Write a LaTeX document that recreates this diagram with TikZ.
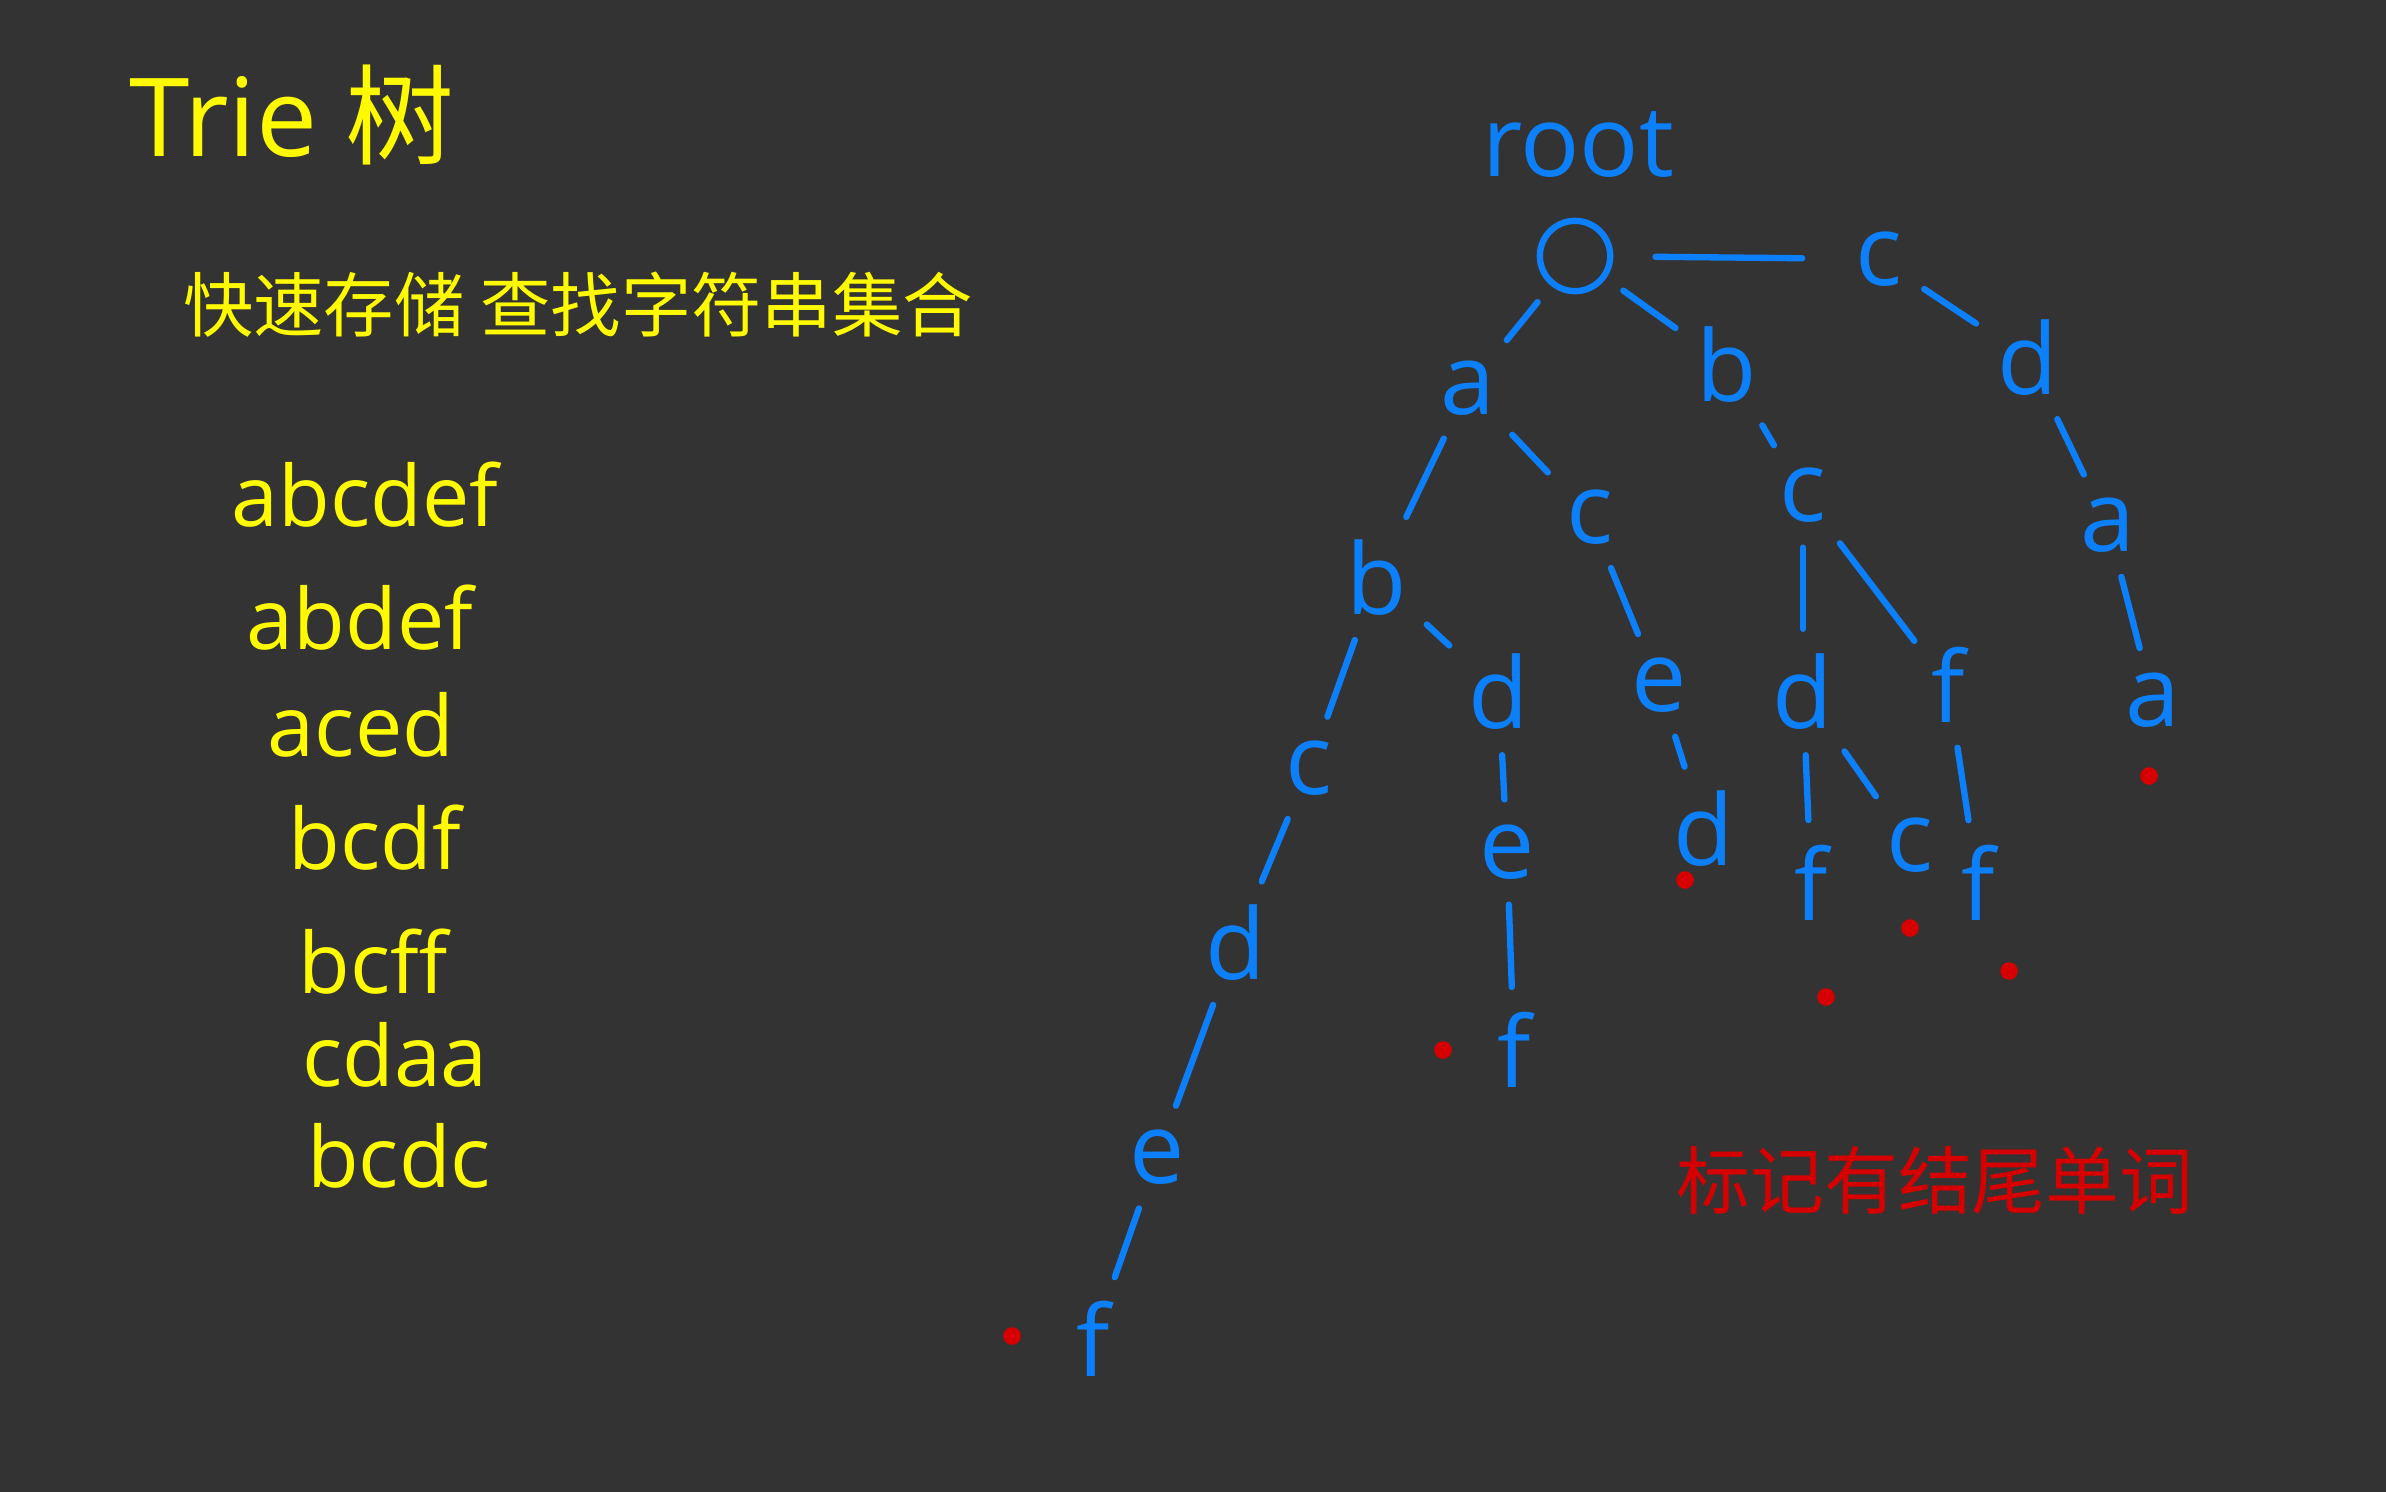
\documentclass[tikz,border=0pt]{standalone}
\usepackage{fontspec}
\setmainfont{Open Sans}
\newfontfamily\cjk{Noto Sans CJK SC}
\usepackage{tikz}
\usetikzlibrary{positioning}
\definecolor{boardbg}{RGB}{51,51,51}
\definecolor{penblue}{RGB}{12,128,250}
\definecolor{penyellow}{RGB}{255,250,0}
\definecolor{penred}{RGB}{215,0,0}

\begin{document}
\begin{tikzpicture}[x=0.01cm, y=-0.01cm,
  letter/.style={text=penblue, font=\fontsize{28}{30}\selectfont, inner sep=1pt},
  word/.style={text=penyellow, font=\fontsize{24}{26}\selectfont, inner sep=1pt},
  edge/.style={draw=penblue, line width=1.8pt, line cap=round, shorten <=6pt, shorten >=6pt},
  endmark/.style={circle, fill=penred, inner sep=0pt, minimum size=5pt},
]
\useasboundingbox (0,0) rectangle (2386,1491);
\fill[boardbg] (-5,-5) rectangle (2391,1496);

% title and the words that go into the trie
\node[text=penyellow, font=\fontsize{31}{34}\selectfont] (title) at (292,115) {Trie {\cjk 树}};
\node[text=penyellow, font=\cjk\fontsize{20}{24}\selectfont] (subtitle) at (578,305) {快速存储 查找字符串集合};
\node[word] (w1) at (365,495)  {abcdef};
\node[word] (w2) at (360,618)  {abdef};
\node[word] (w3) at (361,725)  {aced};
\node[word] (w4) at (375,838)  {bcdf};
\node[word] (w5) at (373,962)  {bcff};
\node[word] (w6) at (395,1055) {cdaa};
\node[word] (w7) at (399,1156) {bcdc};

% the trie
\node[letter] (rootlab) at (1578,145) {root};
\node[draw=penblue, line width=1.8pt, circle, minimum size=20pt, inner sep=0pt] (root) at (1575,256) {};
\node[letter] (a)  at (1468,388) {a};
\node[letter] (b)  at (1727,365) {b};
\node[letter] (c)  at (1879,259) {c};
\node[letter] (cd)  at (2028,358) {d};
\node[letter] (cda)  at (2108,525) {a};
\node[letter] (cdaa) at (2153,700) {a};
\node[letter] (ab)  at (1377,578) {b};
\node[letter] (ac)  at (1590,517) {c};
\node[letter] (abc)  at (1309,768) {c};
\node[letter] (abcd)  at (1236,943) {d};
\node[letter] (abcde)  at (1157,1157) {e};
\node[letter] (abcdef) at (1093,1339) {f};
\node[letter] (abd)  at (1499,692) {d};
\node[letter] (abde)  at (1507,852) {e};
\node[letter] (abdef) at (1514,1050) {f};
\node[letter] (ace)  at (1659,685) {e};
\node[letter] (aced) at (1704,829) {d};
\node[letter] (bc)  at (1803,495) {c};
\node[letter] (bcd)  at (1803,692) {d};
\node[letter] (bcdf) at (1811,883) {f};
\node[letter] (bcdc) at (1910,845) {c};
\node[letter] (bcf)  at (1948,685) {f};
\node[letter] (bcff) at (1978,883) {f};

\draw[edge] (root) -- (a);
\draw[edge] (root) -- (b);
\draw[edge, shorten <=12pt, shorten >=14pt] (root) -- (c);
\draw[edge] (c) -- (cd);
\draw[edge] (cd) -- (cda);
\draw[edge] (cda) -- (cdaa);
\draw[edge] (a) -- (ab);
\draw[edge] (a) -- (ac);
\draw[edge] (ab) -- (abc);
\draw[edge] (abc) -- (abcd);
\draw[edge] (abcd) -- (abcde);
\draw[edge] (abcde) -- (abcdef);
\draw[edge] (ab) -- (abd);
\draw[edge] (abd) -- (abde);
\draw[edge] (abde) -- (abdef);
\draw[edge] (ac) -- (ace);
\draw[edge] (ace) -- (aced);
\draw[edge] (b) -- (bc);
\draw[edge] (bc) -- (bcd);
\draw[edge] (bcd) -- (bcdf);
\draw[edge] (bcd) -- (bcdc);
\draw[edge] (bc) -- (bcf);
\draw[edge] (bcf) -- (bcff);

% end-of-word marks
\node[endmark] (m1) at (1012,1336) {};
\node[endmark] (m2) at (1443,1050) {};
\node[endmark] (m3) at (1685,880)  {};
\node[endmark] (m4) at (1826,997)  {};
\node[endmark] (m5) at (1910,928)  {};
\node[endmark] (m6) at (2009,971)  {};
\node[endmark] (m7) at (2149,776)  {};
\node[text=penred, font=\cjk\fontsize{21}{24}\selectfont] (note) at (1935,1180) {标记有结尾单词};
\end{tikzpicture}
\end{document}
